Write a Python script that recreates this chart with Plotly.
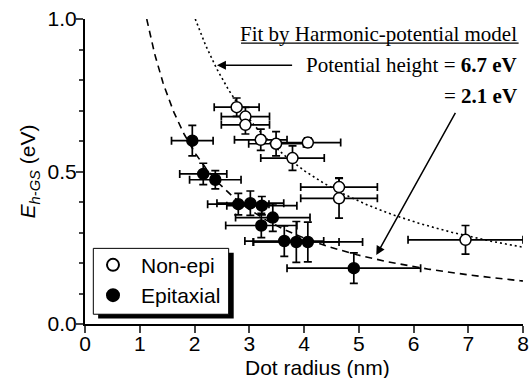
import numpy as np
import plotly.graph_objects as go

# Non-epitaxial dots: radius (nm), energy (eV), and their error bars
nonepi_r = [2.77, 2.93, 2.93, 3.21, 3.49, 4.07, 3.79, 4.64, 4.64, 6.95]
nonepi_e = [0.711, 0.680, 0.653, 0.604, 0.591, 0.595, 0.544, 0.449, 0.412, 0.276]
nonepi_rerr = [0.41, 0.44, 0.44, 0.48, 0.50, 0.60, 0.58, 0.70, 0.70, 1.05]
nonepi_eerr = [0.03, 0.03, 0.03, 0.035, 0.04, 0.015, 0.04, 0.03, 0.065, 0.047]

# Epitaxial dots
epi_r = [1.96, 2.16, 2.38, 2.80, 3.02, 3.23, 3.43, 3.22, 3.64, 3.86, 4.07, 4.91]
epi_e = [0.601, 0.492, 0.473, 0.393, 0.396, 0.388, 0.349, 0.323, 0.272, 0.269, 0.269, 0.183]
epi_rerr = [0.38, 0.43, 0.47, 0.56, 0.61, 0.64, 0.68, 0.65, 0.72, 0.78, 1.00, 1.22]
epi_eerr = [0.05, 0.035, 0.03, 0.035, 0.04, 0.03, 0.045, 0.04, 0.05, 0.067, 0.065, 0.05]

# Harmonic-potential fit: E = k * sqrt(V) / r
potential_heights = [6.7, 2.1]  # eV
fit_k = 0.778
fit_dash = ["2px,3px", "7px,5px"]

x_ticks = [0, 1, 2, 3, 4, 5, 6, 7, 8]
y_ticks = [0.0, 0.5, 1.0]

SANS = "Liberation Sans, Arial, sans-serif"
SERIF = "Liberation Serif, Times New Roman, serif"
FONT = dict(family=SANS, size=21, color="black")

fig = go.Figure()

for V, dash in zip(potential_heights, fit_dash):
    r0 = fit_k * np.sqrt(V) / 1.0
    r = np.linspace(r0, 8.0, 300)
    fig.add_trace(go.Scatter(
        x=r, y=fit_k * np.sqrt(V) / r, mode="lines",
        line=dict(color="black", width=1.6, dash=dash),
        showlegend=False, hoverinfo="skip"))

err_style = dict(color="black", thickness=1.7, width=4)

fig.add_trace(go.Scatter(
    x=nonepi_r, y=nonepi_e, mode="markers", name="Non-epi",
    marker=dict(symbol="circle", size=11, color="white",
                line=dict(color="black", width=1.5)),
    error_x=dict(type="data", array=nonepi_rerr, **err_style),
    error_y=dict(type="data", array=nonepi_eerr, **err_style)))

fig.add_trace(go.Scatter(
    x=epi_r, y=epi_e, mode="markers", name="Epitaxial",
    marker=dict(symbol="circle", size=11, color="black",
                line=dict(color="black", width=1.5)),
    error_x=dict(type="data", array=epi_rerr, **err_style),
    error_y=dict(type="data", array=epi_eerr, **err_style)))

# Legend frame with drop shadow
fig.add_shape(type="rect", xref="paper", yref="paper",
              x0=0.030, x1=0.3395, y0=0.018, y1=0.234,
              fillcolor="black", line=dict(width=0), layer="above")
fig.add_shape(type="rect", xref="paper", yref="paper",
              x0=0.019, x1=0.328, y0=0.032, y1=0.248,
              fillcolor="white", line=dict(color="black", width=1), layer="above")

# Underline of the fit heading
fig.add_shape(type="line", xref="x", yref="y",
              x0=2.85, x1=7.92, y0=0.921, y1=0.921,
              line=dict(color="black", width=1.2))

annos = [
    dict(x=7.92, y=0.952, text="Fit by Harmonic-potential model",
         showarrow=False, xanchor="right", yanchor="middle"),
    dict(x=7.92, y=0.848, text="Potential height = <b>6.7 eV</b>",
         showarrow=False, xanchor="right", yanchor="middle"),
    dict(x=7.92, y=0.749, text="= <b>2.1 eV</b>",
         showarrow=False, xanchor="right", yanchor="middle"),
    dict(x=2.41, y=0.848, ax=3.81, ay=0.848, axref="x", ayref="y",
         text="", showarrow=True, arrowhead=2, arrowsize=1.2,
         arrowwidth=1.5, arrowcolor="black"),
    dict(x=5.32, y=0.226, ax=6.78, ay=0.697, axref="x", ayref="y",
         text="", showarrow=True, arrowhead=2, arrowsize=1.2,
         arrowwidth=1.5, arrowcolor="black"),
]
for a in annos:
    a.setdefault("font", dict(family=SERIF, size=21, color="black"))
    fig.add_annotation(**a)

# x-axis title, sitting a little right of the axis centre
fig.add_annotation(x=0.531, y=0, xref="paper", yref="paper",
                   text="Dot radius (nm)", showarrow=False,
                   xanchor="center", yanchor="middle", yshift=-43, font=FONT)

fig.update_layout(
    width=532, height=378,
    margin=dict(l=85, r=9, t=19, b=54, autoexpand=False),
    paper_bgcolor="white", plot_bgcolor="white",
    font=FONT,
    legend=dict(x=0.0, y=0.26, xanchor="left", yanchor="top",
                bgcolor="rgba(0,0,0,0)", borderwidth=0, itemwidth=46,
                font=FONT, tracegroupgap=0, itemsizing="constant"),
    xaxis=dict(range=[0, 8], tickvals=x_ticks, ticks="outside", ticklen=7,
               tickwidth=2, showline=True, linewidth=2, linecolor="black",
               showgrid=False, zeroline=False, automargin=False,
               tickfont=FONT, ticklabelstandoff=-7),
    yaxis=dict(range=[0, 1], tickvals=y_ticks, tickformat=".1f",
               ticks="outside", ticklen=7, tickwidth=2,
               minor=dict(dtick=0.1, ticks="outside", ticklen=4, tickwidth=2),
               showline=True, linewidth=2, linecolor="black",
               showgrid=False, zeroline=False, automargin=False,
               tickfont=FONT, ticklabelstandoff=-5,
               title=dict(text="<i>E</i><sub><i>h-GS</i></sub> (eV)",
                          standoff=6, font=FONT)),
)

fig.write_html("out.html")
